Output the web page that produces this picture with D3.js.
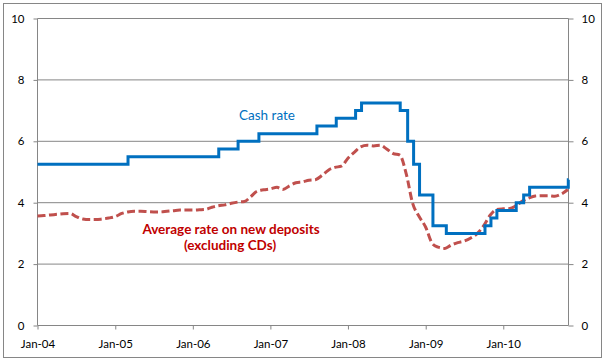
<!DOCTYPE html>
<html><head><meta charset="utf-8">
<script src="https://cdn.jsdelivr.net/npm/d3@7"></script>
<style>html,body{margin:0;padding:0;background:#fff;}svg{display:block;}</style>
</head><body>
<svg id="chart" width="606" height="362"></svg>
<script>
// ---- data ----
const cashDates = ["2004-01-01","2005-03-02","2006-05-03","2006-08-02","2006-11-08","2007-08-08","2007-11-07","2008-02-06","2008-03-05","2008-09-03","2008-10-08","2008-11-05","2008-12-03","2009-02-04","2009-04-08","2009-10-07","2009-11-04","2009-12-02","2010-03-03","2010-04-07","2010-05-05","2010-11-03","2010-11-04"];
const cashRate  = [5.25,5.50,5.75,6.00,6.25,6.50,6.75,7.00,7.25,7.00,6.00,5.25,4.25,3.25,3.00,3.25,3.50,3.75,4.00,4.25,4.50,4.75,4.75];

const depositStart = "2004-01-01"; // monthly series
const depositRate = [
  3.57,3.58,3.60,3.62,3.64,3.65,3.55,3.47,3.45,3.45,3.47,3.50,
  3.55,3.65,3.70,3.72,3.72,3.71,3.70,3.70,3.72,3.74,3.76,3.76,
  3.76,3.77,3.78,3.85,3.90,3.93,3.98,4.02,4.04,4.20,4.38,4.42,
  4.45,4.50,4.43,4.55,4.65,4.68,4.73,4.75,4.89,5.06,5.15,5.19,
  5.45,5.65,5.82,5.87,5.85,5.87,5.75,5.60,5.55,4.95,3.97,3.55,
  3.20,2.67,2.55,2.51,2.62,2.70,2.75,2.85,3.00,3.25,3.60,3.78,
  3.80,3.81,3.90,4.05,4.15,4.22,4.23,4.23,4.21,4.28,4.43
];
const yTicks = [0,2,4,6,8,10];
const xTickDates = ["2004-01-01","2005-01-01","2006-01-01","2007-01-01","2008-01-01","2009-01-01","2010-01-01"];
const xTickLabels = ["Jan-04","Jan-05","Jan-06","Jan-07","Jan-08","Jan-09","Jan-10"];
const seriesLabels = ["Cash rate","Average rate on new deposits","(excluding CDs)"];

// ---- build ----
const parse = d3.utcParse("%Y-%m-%d");
const cash = cashDates.map((d,i)=>({date:parse(d), v:cashRate[i]}));
const start = parse(depositStart);
const deposit = depositRate.map((v,i)=>({date:d3.utcMonth.offset(start,i), v}));

const svg = d3.select("#chart");
const font = "Lato, 'Open Sans', sans-serif";
const gray = "#868686";

const x = d3.scaleUtc().domain([parse("2004-01-01"), parse("2010-11-04")]).range([37.5, 568.5]);
const y = d3.scaleLinear().domain([0,10]).range([325.5, 18.5]);

// outer border
svg.append("rect").attr("x",3.5).attr("y",3.5).attr("width",598).attr("height",354)
  .attr("fill","#fff").attr("stroke",gray).attr("stroke-width",1);

// gridlines
svg.append("g").selectAll("line").data(yTicks.filter(t=>t>0)).join("line")
  .attr("x1",x.range()[0]).attr("x2",x.range()[1])
  .attr("y1",d=>y(d)).attr("y2",d=>y(d))
  .attr("stroke",gray).attr("stroke-width",1);

// left axis
const left = svg.append("g").attr("transform",`translate(${x.range()[0]},0)`)
  .call(d3.axisLeft(y).tickValues(yTicks).tickSize(4).tickPadding(9).tickFormat(d3.format("d")));
// right axis
const right = svg.append("g").attr("transform",`translate(${x.range()[1]},0)`)
  .call(d3.axisRight(y).tickValues(yTicks).tickSize(5).tickPadding(8).tickFormat(d3.format("d")));
// bottom axis
const bottom = svg.append("g").attr("transform",`translate(0,${y(0)})`)
  .call(d3.axisBottom(x).tickValues(xTickDates.map(parse)).tickSize(4).tickPadding(10)
    .tickFormat((d,i)=>xTickLabels[i]));

[left,right,bottom].forEach(g=>{
  g.select(".domain").attr("stroke",gray).attr("stroke-width",1);
  g.selectAll(".tick line").attr("stroke",gray);
  g.selectAll("text").attr("font-family",font).attr("font-size",11.5).attr("fill","#000");
});
bottom.select(".domain").attr("d",`M${x.range()[0]},0H${x.range()[1]}`);
left.select(".domain").attr("d",`M0,${y(0)}V${y(10)}`);
right.select(".domain").attr("d",`M0,${y(0)}V${y(10)}`);

// deposit line
svg.append("path").datum(deposit)
  .attr("d", d3.line().x(d=>x(d.date)).y(d=>y(d.v)).curve(d3.curveMonotoneX))
  .attr("fill","none").attr("stroke","#C0504D").attr("stroke-width",3)
  .attr("stroke-dasharray","8,3.5");

// cash rate line
svg.append("path").datum(cash)
  .attr("d", d3.line().x(d=>x(d.date)).y(d=>y(d.v)).curve(d3.curveStepAfter))
  .attr("fill","none").attr("stroke","#0070C0").attr("stroke-width",3);

// labels
svg.append("text").attr("x",267).attr("y",120).attr("text-anchor","middle")
  .attr("font-family",font).attr("font-size",13.5).attr("fill","#0070C0").text(seriesLabels[0]);
svg.append("text").attr("x",231).attr("y",234).attr("text-anchor","middle")
  .attr("font-family",font).attr("font-size",13.5).attr("font-weight","bold").attr("fill","#C00000").text(seriesLabels[1]);
svg.append("text").attr("x",230).attr("y",250).attr("text-anchor","middle")
  .attr("font-family",font).attr("font-size",13.5).attr("font-weight","bold").attr("fill","#C00000").text(seriesLabels[2]);
</script>
</body></html>
